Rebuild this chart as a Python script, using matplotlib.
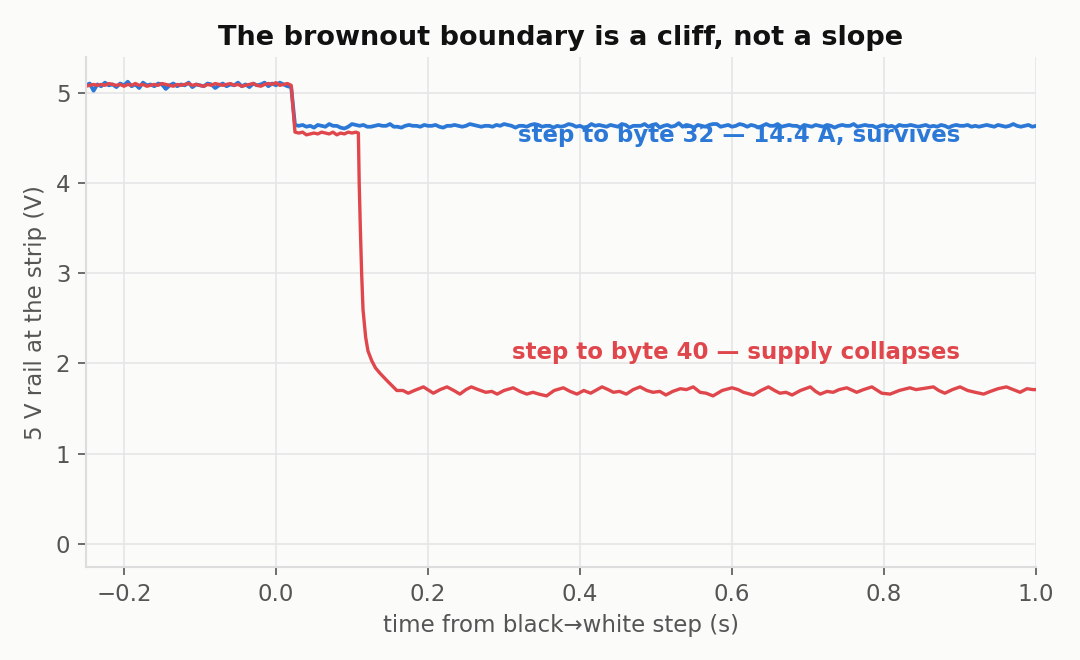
import numpy as np
import matplotlib.pyplot as plt

# sample spacing of the scope capture (s)
dt = 0.005
t_start = -0.25

# step to byte 32: samples every 5 ms from -0.25 s
blue_v = [
    5.09, 5.11, 5.03, 5.10, 5.08, 5.12, 5.09, 5.10, 5.07, 5.11, 5.09, 5.13, 5.08, 5.10,
    5.06, 5.12, 5.09, 5.10, 5.08, 5.11, 5.10, 5.05, 5.09, 5.11, 5.08, 5.10, 5.09, 5.12,
    5.07, 5.10, 5.09, 5.08, 5.11, 5.10, 5.06, 5.09, 5.11, 5.08, 5.10, 5.09, 5.12, 5.08,
    5.10, 5.07, 5.11, 5.09, 5.10, 5.12, 5.08, 5.11, 5.09, 5.12, 5.10, 5.08, 5.07,
    4.65, 4.64, 4.65, 4.63, 4.64, 4.62, 4.65, 4.64, 4.63, 4.66, 4.64, 4.64, 4.62, 4.61,
    4.63, 4.66, 4.65, 4.64, 4.65, 4.63, 4.63, 4.64, 4.65, 4.64, 4.64, 4.66, 4.63, 4.63,
    4.62, 4.64, 4.65, 4.64, 4.64, 4.63, 4.65, 4.64, 4.64, 4.65, 4.63, 4.62, 4.64, 4.64,
    4.65, 4.64, 4.63, 4.64, 4.66, 4.65, 4.64, 4.63, 4.64, 4.64, 4.63, 4.65, 4.64, 4.66,
    4.65, 4.64, 4.62, 4.64, 4.64, 4.63, 4.65, 4.66, 4.65, 4.63, 4.64, 4.64, 4.62, 4.64,
    4.63, 4.64, 4.66, 4.65, 4.63, 4.64, 4.62, 4.63, 4.66, 4.64, 4.65, 4.64, 4.63, 4.65,
    4.64, 4.63, 4.66, 4.65, 4.62, 4.64, 4.64, 4.64, 4.66, 4.63, 4.65, 4.66, 4.62, 4.64,
    4.65, 4.63, 4.64, 4.67, 4.63, 4.65, 4.64, 4.62, 4.65, 4.64, 4.63, 4.65, 4.66, 4.66,
    4.63, 4.64, 4.65, 4.63, 4.64, 4.66, 4.65, 4.63, 4.65, 4.64, 4.62, 4.64, 4.66, 4.64,
    4.64, 4.66, 4.63, 4.64, 4.65, 4.64, 4.64, 4.62, 4.65, 4.64, 4.63, 4.65, 4.64, 4.63,
    4.65, 4.64, 4.62, 4.64, 4.65, 4.64, 4.64, 4.66, 4.63, 4.64, 4.65, 4.64, 4.64, 4.62,
    4.64, 4.65, 4.63, 4.64, 4.62, 4.65, 4.64, 4.64, 4.65, 4.64, 4.63, 4.64, 4.65, 4.63,
    4.64, 4.63, 4.65, 4.64, 4.62, 4.64, 4.65, 4.64, 4.64, 4.65, 4.63, 4.64, 4.63, 4.64,
    4.65, 4.64, 4.63, 4.65, 4.64, 4.63, 4.64, 4.66, 4.64, 4.63, 4.64, 4.65, 4.63, 4.64,
]

# step to byte 40: 5 ms samples up to 0.105 s
red_v_step = [
    5.08, 5.09, 5.10, 5.09, 5.10, 5.09, 5.11, 5.10, 5.09, 5.10, 5.08, 5.10, 5.09, 5.11,
    5.09, 5.10, 5.08, 5.09, 5.10, 5.09, 5.11, 5.10, 5.09, 5.08, 5.10, 5.09, 5.10, 5.11,
    5.09, 5.10, 5.09, 5.08, 5.10, 5.09, 5.11, 5.10, 5.09, 5.10, 5.11, 5.09, 5.10, 5.08,
    5.09, 5.10, 5.11, 5.09, 5.08, 5.10, 5.11, 5.10, 5.12, 5.09, 5.10, 5.11, 5.09,
    4.57, 4.56, 4.57, 4.54, 4.55, 4.56, 4.55, 4.57, 4.56, 4.55, 4.57, 4.54, 4.56, 4.55,
    4.57, 4.56, 4.57,
]

# collapse and settled tail
red_t_tail = [
    0.1084, 0.1095, 0.111, 0.1127, 0.1145, 0.118, 0.121, 0.126, 0.131, 0.137, 0.146,
    0.153, 0.159, 0.167, 0.174, 0.182, 0.194, 0.207, 0.216, 0.225, 0.234, 0.242, 0.250,
    0.257, 0.266, 0.276, 0.284, 0.291, 0.300, 0.312, 0.321, 0.330, 0.338, 0.346, 0.356,
    0.366, 0.378, 0.387, 0.396, 0.405, 0.414, 0.429, 0.437, 0.444, 0.452, 0.461, 0.470,
    0.479, 0.488, 0.496, 0.505, 0.513, 0.522, 0.532, 0.540, 0.549, 0.558, 0.566, 0.575,
    0.587, 0.600, 0.608, 0.615, 0.628, 0.638, 0.648, 0.656, 0.663, 0.671, 0.679, 0.690,
    0.703, 0.710, 0.716, 0.725, 0.733, 0.741, 0.751, 0.764, 0.773, 0.784, 0.797, 0.808,
    0.820, 0.834, 0.842, 0.850, 0.865, 0.872, 0.880, 0.890, 0.900, 0.910, 0.920, 0.931,
    0.940, 0.950, 0.961, 0.970, 0.979, 0.988, 0.996, 1.000,
]
red_v_tail = [
    4.56, 4.00, 3.50, 3.00, 2.60, 2.29, 2.14, 2.03, 1.95, 1.89, 1.81,
    1.75, 1.70, 1.70, 1.67, 1.70, 1.74, 1.67, 1.71, 1.74, 1.70, 1.66, 1.71,
    1.74, 1.71, 1.68, 1.69, 1.66, 1.70, 1.73, 1.69, 1.66, 1.68, 1.66, 1.64,
    1.70, 1.73, 1.69, 1.66, 1.70, 1.67, 1.74, 1.71, 1.68, 1.69, 1.66, 1.71,
    1.74, 1.70, 1.68, 1.69, 1.65, 1.69, 1.72, 1.71, 1.74, 1.68, 1.67, 1.64,
    1.70, 1.73, 1.71, 1.68, 1.65, 1.70, 1.74, 1.70, 1.67, 1.68, 1.65, 1.70,
    1.74, 1.69, 1.66, 1.69, 1.68, 1.71, 1.73, 1.68, 1.71, 1.74, 1.67, 1.66,
    1.70, 1.73, 1.71, 1.72, 1.74, 1.70, 1.67, 1.71, 1.74, 1.70, 1.68, 1.66,
    1.69, 1.72, 1.74, 1.71, 1.68, 1.72, 1.71, 1.71,
]

blue_t = t_start + dt * np.arange(len(blue_v))
red_t = np.concatenate([t_start + dt * np.arange(len(red_v_step)), red_t_tail])
red_v = np.concatenate([red_v_step, red_v_tail])

blue = "#2b78d6"
red = "#e0474c"
bg = "#fbfbf9"

fig = plt.figure(figsize=(7.2, 4.4), dpi=150, facecolor=bg)
ax = fig.add_axes([0.0796, 0.141, 0.8797, 0.772], facecolor=bg)

ax.plot(blue_t, blue_v, color=blue, lw=1.8)
ax.plot(red_t, red_v, color=red, lw=1.6)

ax.text(0.9, 4.53, "step to byte 32 — 14.4 A, survives", color=blue,
        fontsize=11, fontweight="bold", ha="right", va="center")
ax.text(0.9, 2.12, "step to byte 40 — supply collapses", color=red,
        fontsize=11, fontweight="bold", ha="right", va="center")

ax.set_xlim(-0.25, 1.0)
ax.set_ylim(-0.26, 5.4)
ax.set_xticks([-0.2, 0.0, 0.2, 0.4, 0.6, 0.8, 1.0])
ax.set_yticks([0, 1, 2, 3, 4, 5])
ax.grid(True, color="#e6e6e6", lw=0.8)
ax.set_axisbelow(True)

for s in ["top", "right"]:
    ax.spines[s].set_visible(False)
for s in ["left", "bottom"]:
    ax.spines[s].set_color("#dddddd")
    ax.spines[s].set_linewidth(1.0)
ax.tick_params(colors="#555555", labelsize=11, length=4, width=0.8)

ax.set_xlabel("time from black→white step (s)", fontsize=11, color="#555555")
ax.set_ylabel("5 V rail at the strip (V)", fontsize=11, color="#555555")
ax.set_title("The brownout boundary is a cliff, not a slope", fontsize=13,
             fontweight="bold", color="#111111", pad=6)

fig.savefig("out.png", dpi=150, facecolor=bg)
